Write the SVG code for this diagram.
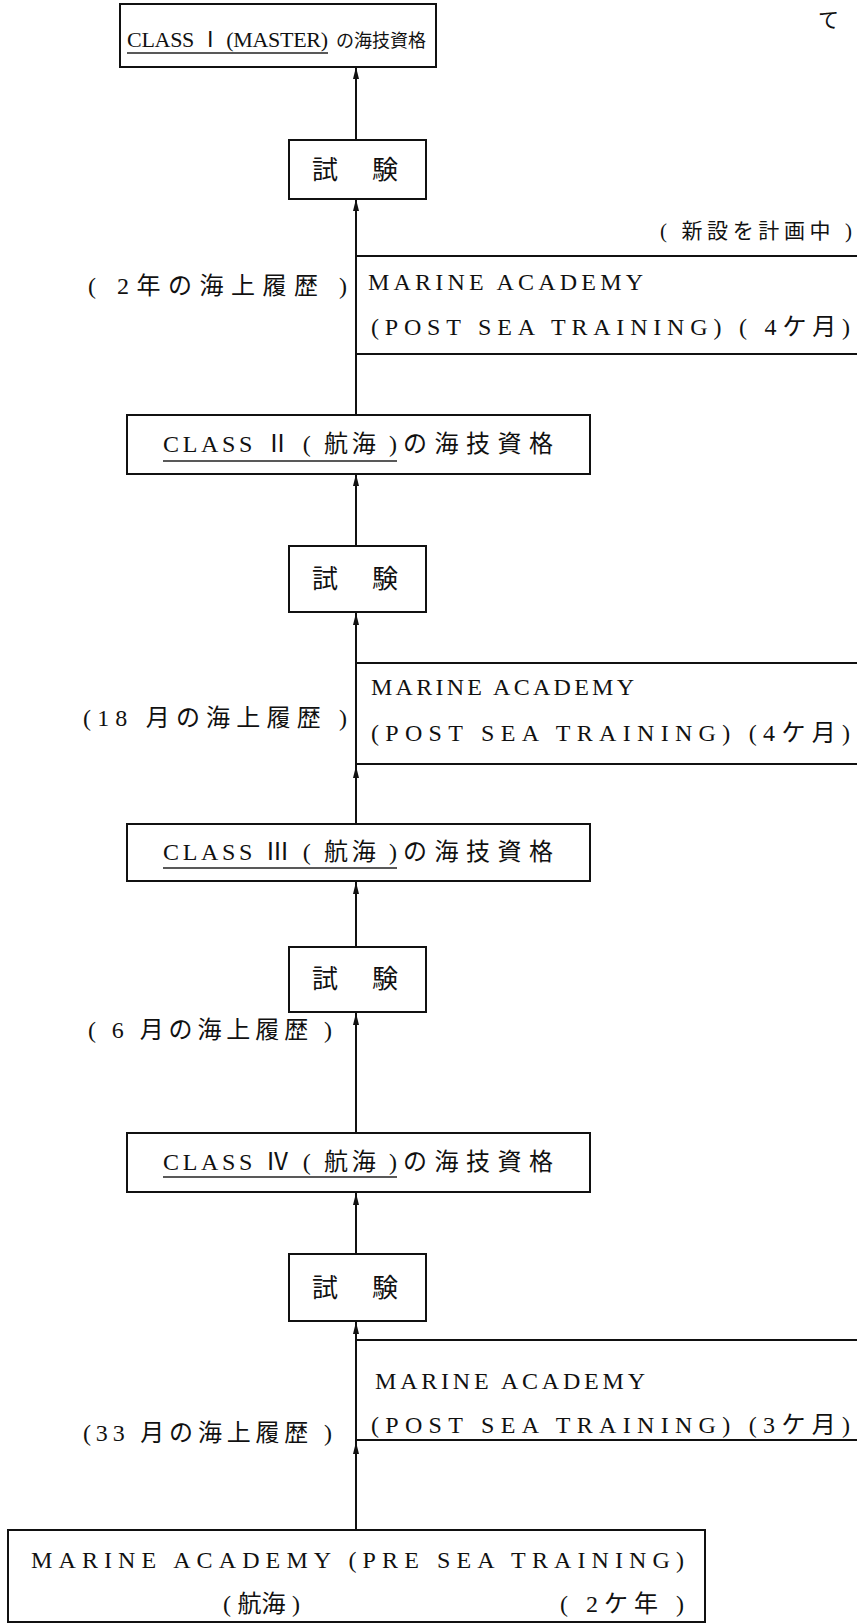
<svg xmlns="http://www.w3.org/2000/svg" width="857" height="1624" viewBox="0 0 857 1624">
<style>
text{font-family:'Liberation Serif','Noto Sans CJK JP',serif;font-size:24px;fill:#111;}
text.sm{font-size:21px;}
text.ex{font-size:26px;}
text.t1{font-size:22px;}
text.t1j{font-size:18px;}
.box{fill:#fff;stroke:#111;stroke-width:2;}
.ul{stroke:#222;stroke-width:1.6;}
.ln{stroke:#111;stroke-width:2;fill:none;}
</style>
<defs>
<marker id="ah" viewBox="0 0 12 8" refX="12" refY="4" markerWidth="12" markerHeight="8" markerUnits="userSpaceOnUse" orient="auto">
<path d="M0,1 L12,4 L0,7 z" fill="#111"/>
</marker>
</defs>
<rect width="857" height="1624" fill="#fff"/>

<g id="connectors">
<line class="ln" x1="356" y1="140" x2="356" y2="67" marker-end="url(#ah)"/>
<line class="ln" x1="356" y1="415" x2="356" y2="199" marker-end="url(#ah)"/>
<line class="ln" x1="356" y1="546" x2="356" y2="474" marker-end="url(#ah)"/>
<line class="ln" x1="356" y1="824" x2="356" y2="766" marker-end="url(#ah)"/>
<line class="ln" x1="356" y1="766" x2="356" y2="613" marker-end="url(#ah)"/>
<line class="ln" x1="356" y1="947" x2="356" y2="882" marker-end="url(#ah)"/>
<line class="ln" x1="356" y1="1133" x2="356" y2="1013" marker-end="url(#ah)"/>
<line class="ln" x1="356" y1="1254" x2="356" y2="1193" marker-end="url(#ah)"/>
<line class="ln" x1="356" y1="1530" x2="356" y2="1442" marker-end="url(#ah)"/>
<line class="ln" x1="356" y1="1442" x2="356" y2="1322" marker-end="url(#ah)"/>
</g>

<g id="class1">
<rect class="box" x="120" y="4" width="316" height="63"/>
<text class="t1" x="127" y="47" textLength="201" lengthAdjust="spacing">CLASS Ⅰ (MASTER)</text>
<text class="t1j" x="336" y="47" textLength="90" lengthAdjust="spacing">の海技資格</text>
<line class="ul" x1="127" y1="53" x2="328" y2="53"/>
</g>
<text x="818" y="27" class="sm">て</text>

<g id="exam1">
<rect class="box" x="289" y="140" width="137" height="59"/>
<text class="ex" x="312" y="179" textLength="86" lengthAdjust="spacing">試 験</text>
</g>

<g id="academy1">
<line class="ln" x1="356" y1="256" x2="857" y2="256"/>
<line class="ln" x1="356" y1="354" x2="857" y2="354"/>
<text x="660" y="238" class="sm" textLength="192" lengthAdjust="spacing">( 新設を計画中 )</text>
<text x="368" y="290" textLength="275" lengthAdjust="spacing">MARINE ACADEMY</text>
<text x="371" y="335" textLength="479" lengthAdjust="spacing">(POST SEA TRAINING) ( 4ケ月)</text>
</g>
<text id="sea1" x="88" y="294" textLength="259" lengthAdjust="spacing">( 2年の海上履歴 )</text>

<g id="class2">
<rect class="box" x="127" y="415" width="463" height="59"/>
<text x="163" y="452" textLength="234" lengthAdjust="spacing">CLASS Ⅱ ( 航海 )</text>
<text x="403" y="452" textLength="150" lengthAdjust="spacing">の海技資格</text>
<line class="ul" x1="163" y1="461" x2="397" y2="461"/>
</g>

<g id="exam2">
<rect class="box" x="289" y="546" width="137" height="66"/>
<text class="ex" x="312" y="588" textLength="86" lengthAdjust="spacing">試 験</text>
</g>

<g id="academy2">
<line class="ln" x1="356" y1="663" x2="857" y2="663"/>
<line class="ln" x1="356" y1="764" x2="857" y2="764"/>
<text x="371" y="695" textLength="263" lengthAdjust="spacing">MARINE ACADEMY</text>
<text x="371" y="741" textLength="479" lengthAdjust="spacing">(POST SEA TRAINING) (4ケ月)</text>
</g>
<text id="sea2" x="83" y="726" textLength="264" lengthAdjust="spacing">(18 月の海上履歴 )</text>

<g id="class3">
<rect class="box" x="127" y="824" width="463" height="57"/>
<text x="163" y="860" textLength="234" lengthAdjust="spacing">CLASS Ⅲ ( 航海 )</text>
<text x="403" y="860" textLength="150" lengthAdjust="spacing">の海技資格</text>
<line class="ul" x1="163" y1="868" x2="397" y2="868"/>
</g>

<g id="exam3">
<rect class="box" x="289" y="947" width="137" height="65"/>
<text class="ex" x="312" y="988" textLength="86" lengthAdjust="spacing">試 験</text>
</g>
<text id="sea3" x="88" y="1038" textLength="244" lengthAdjust="spacing">( 6 月の海上履歴 )</text>

<g id="class4">
<rect class="box" x="127" y="1133" width="463" height="59"/>
<text x="163" y="1170" textLength="234" lengthAdjust="spacing">CLASS Ⅳ ( 航海 )</text>
<text x="403" y="1170" textLength="150" lengthAdjust="spacing">の海技資格</text>
<line class="ul" x1="163" y1="1177" x2="397" y2="1177"/>
</g>

<g id="exam4">
<rect class="box" x="289" y="1254" width="137" height="67"/>
<text class="ex" x="312" y="1297" textLength="86" lengthAdjust="spacing">試 験</text>
</g>

<g id="academy3">
<line class="ln" x1="356" y1="1340" x2="857" y2="1340"/>
<line class="ln" x1="356" y1="1440" x2="857" y2="1440"/>
<text x="375" y="1389" textLength="270" lengthAdjust="spacing">MARINE ACADEMY</text>
<text x="371" y="1433" textLength="479" lengthAdjust="spacing">(POST SEA TRAINING) (3ケ月)</text>
</g>
<text id="sea4" x="83" y="1441" textLength="249" lengthAdjust="spacing">(33 月の海上履歴 )</text>

<g id="presea">
<rect class="box" x="8" y="1530" width="697" height="92"/>
<text x="31" y="1568" textLength="653" lengthAdjust="spacing">MARINE ACADEMY (PRE SEA TRAINING)</text>
<text x="223" y="1612" textLength="77" lengthAdjust="spacing">( 航海 )</text>
<text x="560" y="1612" textLength="124" lengthAdjust="spacing">( 2ケ年 )</text>
</g>
</svg>
